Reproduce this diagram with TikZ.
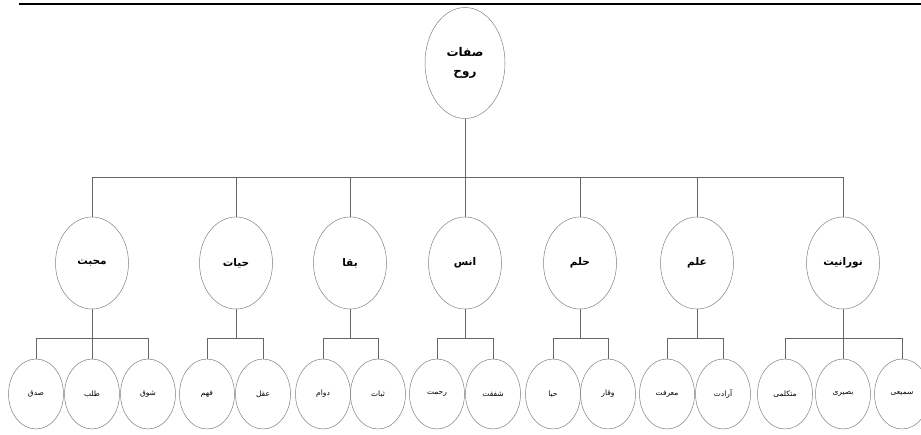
\documentclass[tikz,border=0pt]{standalone}
\usepackage{fontspec}
\newfontfamily\arabicfont[Script=Arabic]{DejaVu Sans}
\TeXXeTstate=1
\usetikzlibrary{shapes.geometric}
\newcommand\rtltext[1]{\beginR #1\endR}
\tikzset{
  conn/.style={draw=black!60, line width=0.6pt},
  rootnode/.style={ellipse, draw=black!50, line width=0.5pt, minimum width=80pt, minimum height=111pt, inner sep=0pt, align=center, font=\arabicfont\bfseries\fontsize{12}{19}\selectfont},
  topic/.style={ellipse, draw=black!50, line width=0.5pt, minimum width=73pt, minimum height=92pt, inner sep=0pt, font=\arabicfont\bfseries\fontsize{10.5}{12}\selectfont},
  leaf/.style={ellipse, draw=black!50, line width=0.5pt, minimum width=55pt, minimum height=70pt, inner sep=0pt, font=\arabicfont\fontsize{7.5}{9}\selectfont},
}
\begin{document}
\begin{tikzpicture}[x=1pt,y=-1pt]
\useasboundingbox (0,0) rectangle (921,435);
% top rule
\coordinate (ruleL) at (19,4);
\coordinate (ruleR) at (921,4);
\draw[black, line width=1.4pt] (ruleL) -- (ruleR);

% root
\node[rootnode] (root) at (465,63) {\rtltext{صفات}\\\rtltext{روح}};

% level 1
\node[topic] (t1) at (92,263)  {\rtltext{محبت}};
\node[topic] (t2) at (236,263) {\rtltext{حیات}};
\node[topic] (t3) at (350,263) {\rtltext{بقا}};
\node[topic] (t4) at (465,263) {\rtltext{انس}};
\node[topic] (t5) at (580,263) {\rtltext{حلم}};
\node[topic] (t6) at (697,263) {\rtltext{علم}};
\node[topic] (t7) at (843,263) {\rtltext{نورانیت}};

% main bus
\coordinate (busL) at (92,177);
\coordinate (busR) at (843,177);
\draw[conn] (busL) -- (busR);
\draw[conn] (root.south) -- (root.south |- busL);
\foreach \t in {t1,t2,t3,t4,t5,t6,t7}{
  \draw[conn] (\t.north) -- (\t.north |- busL);
}

% level 2
\node[leaf] (a1) at (36,394)  {\rtltext{صدق}};
\node[leaf] (a2) at (92,394)  {\rtltext{طلب}};
\node[leaf] (a3) at (148,394) {\rtltext{شوق}};
\node[leaf] (b1) at (207,394) {\rtltext{فهم}};
\node[leaf] (b2) at (263,394) {\rtltext{عقل}};
\node[leaf] (c1) at (323,394) {\rtltext{دوام}};
\node[leaf] (c2) at (378,394) {\rtltext{ثبات}};
\node[leaf] (d1) at (437,394) {\rtltext{رحمت}};
\node[leaf] (d2) at (493,394) {\rtltext{شفقت}};
\node[leaf] (e1) at (553,394) {\rtltext{حیا}};
\node[leaf] (e2) at (608,394) {\rtltext{وقار}};
\node[leaf] (f1) at (667,394) {\rtltext{معرفت}};
\node[leaf] (f2) at (723,394) {\rtltext{آرادت}};
\node[leaf] (g1) at (785,394) {\rtltext{متکلمی}};
\node[leaf] (g2) at (843,394) {\rtltext{بصیری}};
\node[leaf] (g3) at (902,394) {\rtltext{سمیعی}};

% sub buses
\coordinate (sb) at (0,338);
\draw[conn] (t1.south) -- (t1.south |- sb);
\draw[conn] (a1.north |- sb) -- (a3.north |- sb);
\foreach \c in {a1,a2,a3}{\draw[conn] (\c.north) -- (\c.north |- sb);}

\draw[conn] (t2.south) -- (t2.south |- sb);
\draw[conn] (b1.north |- sb) -- (b2.north |- sb);
\foreach \c in {b1,b2}{\draw[conn] (\c.north) -- (\c.north |- sb);}

\draw[conn] (t3.south) -- (t3.south |- sb);
\draw[conn] (c1.north |- sb) -- (c2.north |- sb);
\foreach \c in {c1,c2}{\draw[conn] (\c.north) -- (\c.north |- sb);}

\draw[conn] (t4.south) -- (t4.south |- sb);
\draw[conn] (d1.north |- sb) -- (d2.north |- sb);
\foreach \c in {d1,d2}{\draw[conn] (\c.north) -- (\c.north |- sb);}

\draw[conn] (t5.south) -- (t5.south |- sb);
\draw[conn] (e1.north |- sb) -- (e2.north |- sb);
\foreach \c in {e1,e2}{\draw[conn] (\c.north) -- (\c.north |- sb);}

\draw[conn] (t6.south) -- (t6.south |- sb);
\draw[conn] (f1.north |- sb) -- (f2.north |- sb);
\foreach \c in {f1,f2}{\draw[conn] (\c.north) -- (\c.north |- sb);}

\draw[conn] (t7.south) -- (t7.south |- sb);
\draw[conn] (g1.north |- sb) -- (g3.north |- sb);
\foreach \c in {g1,g2,g3}{\draw[conn] (\c.north) -- (\c.north |- sb);}
\end{tikzpicture}
\end{document}
